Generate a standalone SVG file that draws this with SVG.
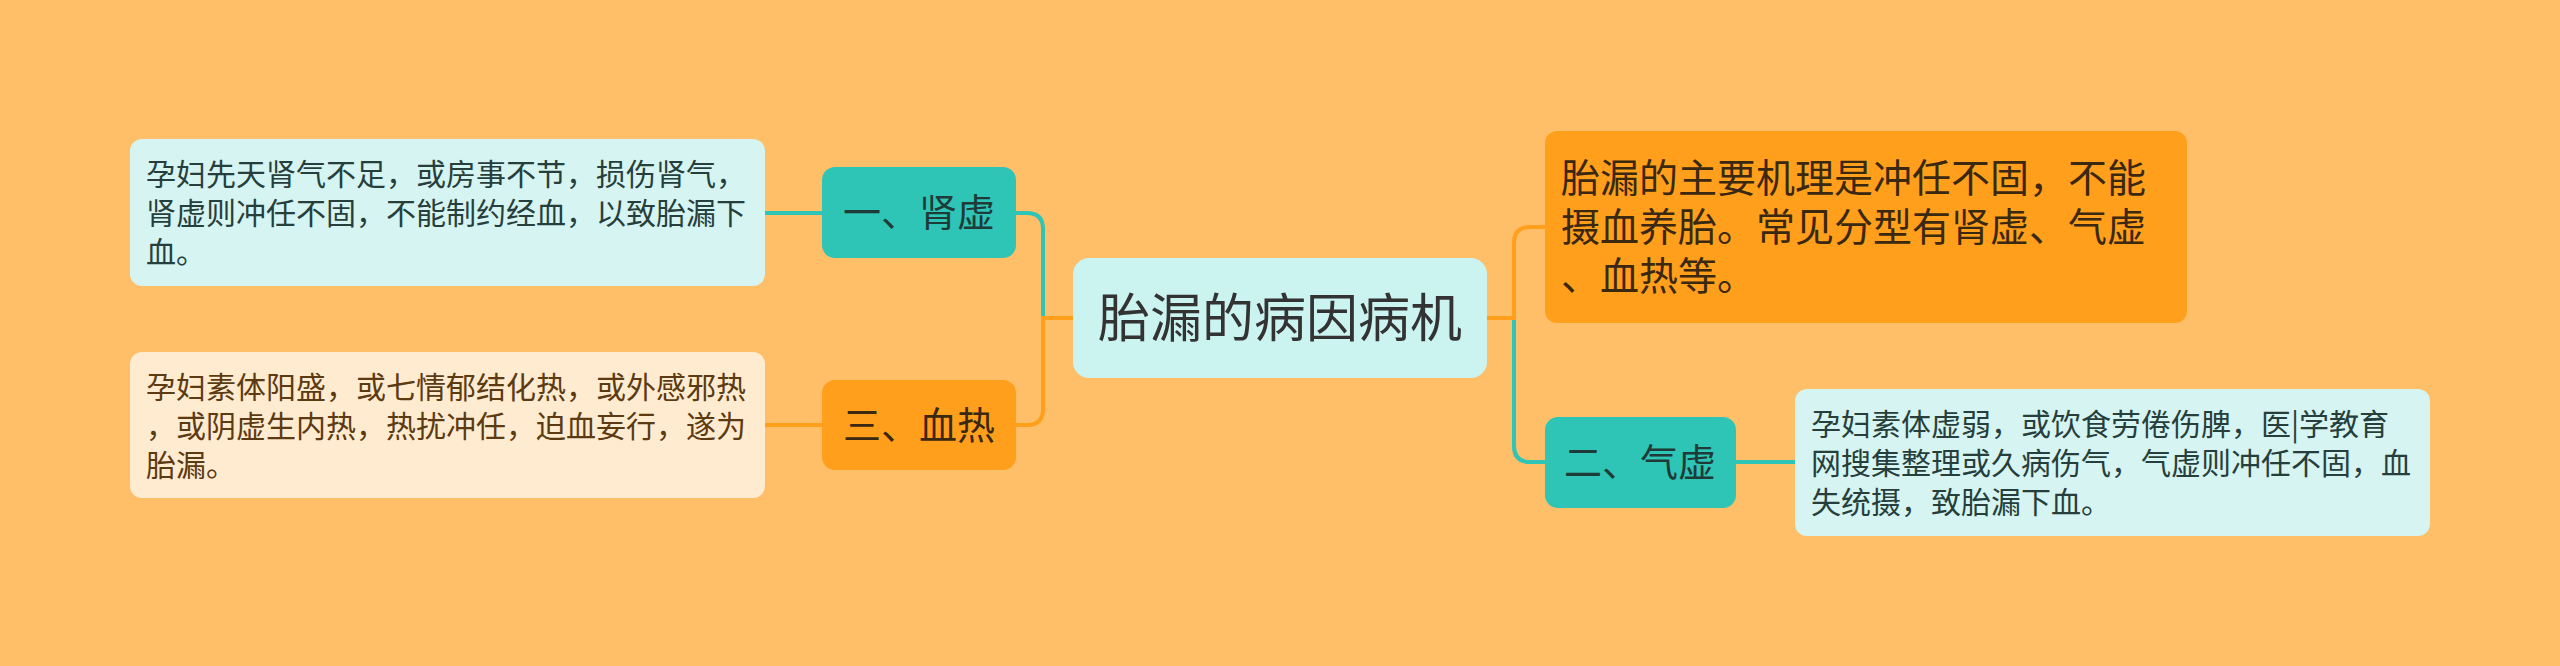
<svg xmlns="http://www.w3.org/2000/svg" width="2560" height="666" viewBox="0 0 2560 666">
<style>
text{font-family:"Noto Sans CJK SC","Noto Sans",sans-serif;}
.c{fill:none;stroke-width:4;stroke-linecap:round;}
.t{stroke:#2EC4B6;}
.o{stroke:#FF9F1C;}
.leaf{font-size:30px;}
.mid{font-size:38px;text-anchor:middle;}
</style>
<rect width="2560" height="666" fill="#FFBF69"/>
<g id="connectors">
<path class="c t" d="M1073,318 H1043 V229 Q1043,213 1027,213 H1016"/>
<path class="c o" d="M1073,318 H1043 V409 Q1043,425 1027,425 H1016"/>
<path class="c t" d="M765,213 H822"/>
<path class="c o" d="M765,425 H822"/>
<path class="c t" d="M1487,318 H1514 V446 Q1514,462 1530,462 H1545"/>
<path class="c o" d="M1487,318 H1514 V243 Q1514,227 1530,227 H1545"/>
<path class="c t" d="M1736,462 H1795"/>
</g>
<g id="center">
<rect x="1073" y="258" width="414" height="120" rx="16" fill="#CBF3F0"/>
<text x="1280" y="337" font-size="52" text-anchor="middle" fill="#333333">胎漏的病因病机</text>
</g>
<g id="summary">
<rect x="1545" y="131" width="642" height="192" rx="12" fill="#FF9F1C"/>
<text font-size="39" fill="#3A2810"><tspan x="1561" y="192">胎漏的主要机理是冲任不固，不能</tspan><tspan x="1561" y="241">摄血养胎。常见分型有肾虚、气虚</tspan><tspan x="1561" y="290">、血热等。</tspan></text>
</g>
<g id="n1">
<rect x="822" y="167" width="194" height="91" rx="13" fill="#2EC4B6"/>
<text class="mid" x="919" y="226" fill="#1E3B38">一、肾虚</text>
</g>
<g id="n3">
<rect x="822" y="380" width="194" height="90" rx="13" fill="#FF9F1C"/>
<text class="mid" x="919" y="439" fill="#3A2810">三、血热</text>
</g>
<g id="n2">
<rect x="1545" y="417" width="191" height="91" rx="13" fill="#2EC4B6"/>
<text class="mid" x="1640" y="476" fill="#1E3B38">二、气虚</text>
</g>
<g id="leaf1">
<rect x="130" y="139" width="635" height="147" rx="12" fill="#D6F4F1"/>
<text class="leaf" fill="#263F3C"><tspan x="146" y="185">孕妇先天肾气不足，或房事不节，损伤肾气，</tspan><tspan x="146" y="224">肾虚则冲任不固，不能制约经血，以致胎漏下</tspan><tspan x="146" y="263">血。</tspan></text>
</g>
<g id="leaf3">
<rect x="130" y="352" width="635" height="146" rx="12" fill="#FFEBCF"/>
<text class="leaf" fill="#5C3A12"><tspan x="146" y="398">孕妇素体阳盛，或七情郁结化热，或外感邪热</tspan><tspan x="146" y="437">，或阴虚生内热，热扰冲任，迫血妄行，遂为</tspan><tspan x="146" y="476">胎漏。</tspan></text>
</g>
<g id="leaf2">
<rect x="1795" y="389" width="635" height="147" rx="12" fill="#D6F4F1"/>
<text class="leaf" fill="#263F3C"><tspan x="1811" y="435">孕妇素体虚弱，或饮食劳倦伤脾，医|学教育</tspan><tspan x="1811" y="474">网搜集整理或久病伤气，气虚则冲任不固，血</tspan><tspan x="1811" y="513">失统摄，致胎漏下血。</tspan></text>
</g>
</svg>
